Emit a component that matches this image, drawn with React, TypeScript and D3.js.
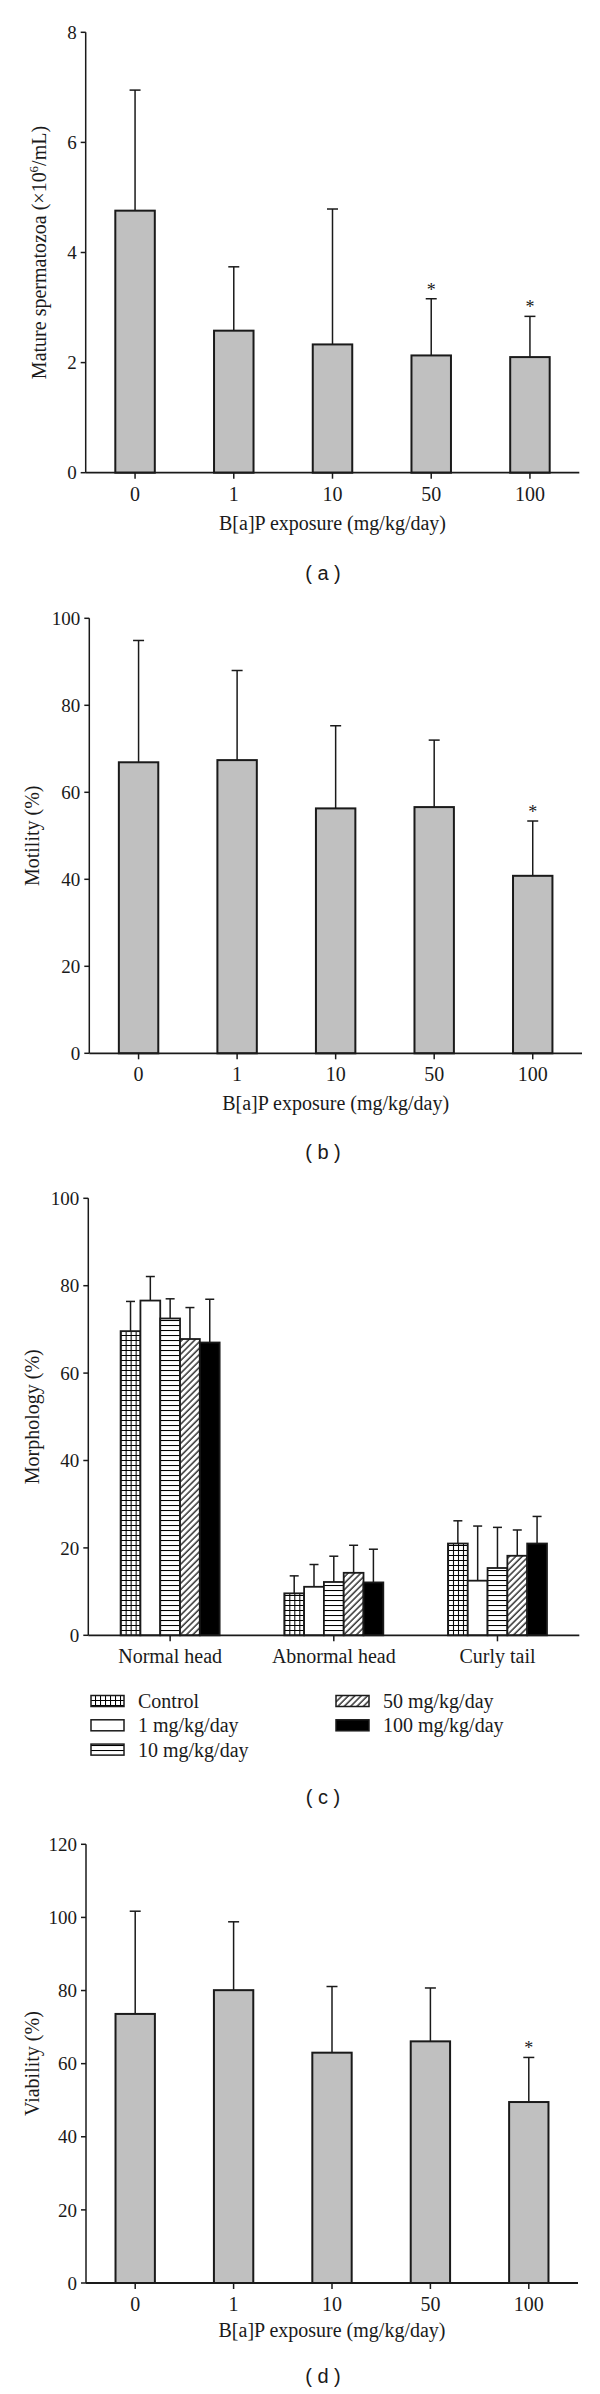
import * as d3 from 'd3';
import type { ReactNode } from 'react';

// ---- data ----
const DOSES = ['0', '1', '10', '50', '100'];

// (a) mature spermatozoa, x10^6/mL
const COUNT_MEAN = [4.76, 2.58, 2.33, 2.13, 2.1];
const COUNT_SD = [2.19, 1.16, 2.46, 1.03, 0.74];
const COUNT_SIG = [false, false, false, true, true];
const COUNT_TICKS = [0, 2, 4, 6, 8];

// (b) motility %
const MOTILITY_MEAN = [66.9, 67.4, 56.3, 56.6, 40.8];
const MOTILITY_SD = [28.0, 20.6, 19.0, 15.4, 12.6];
const MOTILITY_SIG = [false, false, false, false, true];
const PCT_TICKS = [0, 20, 40, 60, 80, 100];

// (c) morphology %
const MORPH_CATEGORIES = ['Normal head', 'Abnormal head', 'Curly tail'];
const MORPH_SERIES = ['Control', '1 mg/kg/day', '10 mg/kg/day', '50 mg/kg/day', '100 mg/kg/day'];
const MORPH_CONTROL = [69.6, 9.6, 21.0];
const MORPH_1 = [76.6, 11.1, 12.5];
const MORPH_10 = [72.5, 12.2, 15.4];
const MORPH_50 = [67.8, 14.3, 18.2];
const MORPH_100 = [67.0, 12.1, 21.0];
const MORPH_CONTROL_SD = [6.8, 4.0, 5.2];
const MORPH_1_SD = [5.5, 5.1, 12.5];
const MORPH_10_SD = [4.5, 5.9, 9.3];
const MORPH_50_SD = [7.2, 6.3, 5.9];
const MORPH_100_SD = [9.9, 7.6, 6.2];

// (d) viability %
const VIABILITY_MEAN = [73.6, 80.1, 63.0, 66.1, 49.5];
const VIABILITY_SD = [28.1, 18.7, 18.1, 14.6, 12.2];
const VIABILITY_SIG = [false, false, false, false, true];
const VIABILITY_TICKS = [0, 20, 40, 60, 80, 100, 120];

const X_TITLE = 'B[a]P exposure (mg/kg/day)';

const SERIF = '"Liberation Serif", "Times New Roman", serif';
const SANS = '"Liberation Sans", Arial, sans-serif';
const INK = '#1a1a1a';
const BAR_GREY = '#c0c0c0';
const SERIES_FILLS = ['url(#pGrid)', '#ffffff', 'url(#pHLines)', 'url(#pDiag)', '#000000'];

interface Frame {
  left: number;
  right: number;
  top: number;
  bottom: number;
}

function YAxis({ frame, y, ticks }: { frame: Frame; y: d3.ScaleLinear<number, number>; ticks: number[] }) {
  return (
    <g>
      <line x1={frame.left} x2={frame.left} y1={frame.top} y2={frame.bottom} stroke={INK} strokeWidth={1.5} />
      {ticks.map((t) => (
        <g key={t} transform={`translate(${frame.left},${y(t)})`}>
          <line x1={-5} x2={0} stroke={INK} strokeWidth={1.5} />
          <text x={-9} dy="0.35em" textAnchor="end" fontSize={19} fontFamily={SERIF} fill={INK}>
            {t}
          </text>
        </g>
      ))}
    </g>
  );
}

function YTitle({ x, frame, children }: { x: number; frame: Frame; children: ReactNode }) {
  const cy = (frame.top + frame.bottom) / 2;
  return (
    <text
      transform={`translate(${x},${cy}) rotate(-90)`}
      textAnchor="middle"
      fontSize={20}
      fontFamily={SERIF}
      fill={INK}
    >
      {children}
    </text>
  );
}

function PanelTag({ y, tag }: { y: number; tag: string }) {
  return (
    <text x={323} y={y} textAnchor="middle" fontSize={20} fontFamily={SANS} fill={INK} xmlSpace="preserve">
      {`( ${tag} )`}
    </text>
  );
}

interface DosePanelProps {
  frame: Frame;
  yMax: number;
  ticks: number[];
  means: number[];
  sds: number[];
  sig: boolean[];
  yTitle: ReactNode;
  yTitleX: number;
  tag: string;
  tagY: number;
  xTitleGap: number;
}

function DosePanel({ frame, yMax, ticks, means, sds, sig, yTitle, yTitleX, tag, tagY, xTitleGap }: DosePanelProps) {
  const x = d3.scaleBand<string>().domain(DOSES).range([frame.left, frame.right]).paddingInner(0.6).paddingOuter(0.3);
  const y = d3.scaleLinear().domain([0, yMax]).range([frame.bottom, frame.top]);
  const bw = x.bandwidth();

  return (
    <g>
      {DOSES.map((d, i) => {
        const x0 = x(d) ?? 0;
        const cx = x0 + bw / 2;
        const yTop = y(means[i]);
        const yErr = y(means[i] + sds[i]);
        return (
          <g key={d}>
            <line x1={cx} x2={cx} y1={yTop} y2={yErr} stroke={INK} strokeWidth={1.5} />
            <line x1={cx - 5.5} x2={cx + 5.5} y1={yErr} y2={yErr} stroke={INK} strokeWidth={1.5} />
            <rect x={x0} y={yTop} width={bw} height={frame.bottom - yTop} fill={BAR_GREY} stroke={INK} strokeWidth={2} />
            {sig[i] && (
              <text x={cx} y={yErr - 3} textAnchor="middle" fontSize={18} fontFamily={SERIF} fill={INK}>
                *
              </text>
            )}
          </g>
        );
      })}
      <YAxis frame={frame} y={y} ticks={ticks} />
      <line x1={frame.left} x2={frame.right} y1={frame.bottom} y2={frame.bottom} stroke={INK} strokeWidth={1.8} />
      {DOSES.map((d) => {
        const cx = (x(d) ?? 0) + bw / 2;
        return (
          <g key={d} transform={`translate(${cx},${frame.bottom})`}>
            <line y1={0} y2={6} stroke={INK} strokeWidth={1.5} />
            <text y={28} textAnchor="middle" fontSize={20} fontFamily={SERIF} fill={INK}>
              {d}
            </text>
          </g>
        );
      })}
      <text
        x={(frame.left + frame.right) / 2}
        y={frame.bottom + xTitleGap}
        textAnchor="middle"
        fontSize={20}
        fontFamily={SERIF}
        fill={INK}
      >
        {X_TITLE}
      </text>
      <YTitle x={yTitleX} frame={frame}>
        {yTitle}
      </YTitle>
      <PanelTag y={tagY} tag={tag} />
    </g>
  );
}

function MorphologyPanel() {
  const frame: Frame = { left: 88.3, right: 579.3, top: 1198.3, bottom: 1635.3 };
  const means = [MORPH_CONTROL, MORPH_1, MORPH_10, MORPH_50, MORPH_100];
  const sds = [MORPH_CONTROL_SD, MORPH_1_SD, MORPH_10_SD, MORPH_50_SD, MORPH_100_SD];
  const x0 = d3
    .scaleBand<string>()
    .domain(MORPH_CATEGORIES)
    .range([frame.left, frame.right])
    .paddingInner(0.395)
    .paddingOuter(0.1975);
  const x1 = d3.scaleBand<string>().domain(MORPH_SERIES).range([0, x0.bandwidth()]);
  const y = d3.scaleLinear().domain([0, 100]).range([frame.bottom, frame.top]);
  const bw = x1.bandwidth();

  return (
    <g>
      {MORPH_CATEGORIES.map((c, ci) => (
        <g key={c} transform={`translate(${x0(c) ?? 0},0)`}>
          {MORPH_SERIES.map((s, si) => {
            const bx = x1(s) ?? 0;
            const cx = bx + bw / 2;
            const m = means[si][ci];
            const yTop = y(m);
            const yErr = y(m + sds[si][ci]);
            return (
              <g key={s}>
                <line x1={cx} x2={cx} y1={yTop} y2={yErr} stroke={INK} strokeWidth={1.5} />
                <line x1={cx - 4.5} x2={cx + 4.5} y1={yErr} y2={yErr} stroke={INK} strokeWidth={1.5} />
                <rect
                  x={bx}
                  y={yTop}
                  width={bw}
                  height={frame.bottom - yTop}
                  fill={SERIES_FILLS[si]}
                  stroke={INK}
                  strokeWidth={1.8}
                />
              </g>
            );
          })}
        </g>
      ))}
      <YAxis frame={frame} y={y} ticks={PCT_TICKS} />
      <line x1={frame.left} x2={frame.right} y1={frame.bottom} y2={frame.bottom} stroke={INK} strokeWidth={1.8} />
      {MORPH_CATEGORIES.map((c) => {
        const cx = (x0(c) ?? 0) + x0.bandwidth() / 2;
        return (
          <g key={c} transform={`translate(${cx},${frame.bottom})`}>
            <line y1={0} y2={6} stroke={INK} strokeWidth={1.5} />
            <text y={28} textAnchor="middle" fontSize={20} fontFamily={SERIF} fill={INK}>
              {c}
            </text>
          </g>
        );
      })}
      <YTitle x={39} frame={frame}>
        Morphology (%)
      </YTitle>
      {/* legend: three rows on the left, two on the right */}
      {MORPH_SERIES.map((s, i) => {
        const col = i < 3 ? 0 : 1;
        const row = i < 3 ? i : i - 3;
        const sx = col === 0 ? 91 : 336;
        const cy = 1701 + row * 24.3;
        return (
          <g key={s}>
            <rect x={sx} y={cy - 5.5} width={33} height={11} fill={SERIES_FILLS[i]} stroke={INK} strokeWidth={1.5} />
            <text x={sx + 47} y={cy} dy="0.35em" fontSize={20} fontFamily={SERIF} fill={INK}>
              {s}
            </text>
          </g>
        );
      })}
      <PanelTag y={1804} tag="c" />
    </g>
  );
}

export default function App() {
  return (
    <div style={{ position: 'absolute', left: 0, top: 0, background: '#fff' }}>
      <svg width={600} height={2394} viewBox="0 0 600 2394" style={{ display: 'block' }}>
        <defs>
          <pattern id="pGrid" width={5} height={5} patternUnits="userSpaceOnUse">
            <rect width={5} height={5} fill="#fff" />
            <path d="M0,0.5H5M0.5,0V5" stroke="#000" strokeWidth={1.1} />
          </pattern>
          <pattern id="pHLines" width={5} height={5} patternUnits="userSpaceOnUse">
            <rect width={5} height={5} fill="#fff" />
            <path d="M0,0.5H5" stroke="#000" strokeWidth={1.1} />
          </pattern>
          <pattern id="pDiag" width={4.5} height={4.5} patternUnits="userSpaceOnUse" patternTransform="rotate(45)">
            <rect width={4.5} height={4.5} fill="#fff" />
            <path d="M1,0V4.5" stroke="#000" strokeWidth={1.2} />
          </pattern>
        </defs>
        <rect width={600} height={2394} fill="#fff" />

        <DosePanel
          frame={{ left: 85.7, right: 579.3, top: 32.3, bottom: 472.7 }}
          yMax={8}
          ticks={COUNT_TICKS}
          means={COUNT_MEAN}
          sds={COUNT_SD}
          sig={COUNT_SIG}
          yTitle={
            <>
              Mature spermatozoa (×10
              <tspan fontSize={13} dy={-8}>
                6
              </tspan>
              <tspan dy={8}>/mL)</tspan>
            </>
          }
          yTitleX={46}
          tag="a"
          tagY={580}
          xTitleGap={57}
        />

        <DosePanel
          frame={{ left: 89.3, right: 582, top: 618.3, bottom: 1053.3 }}
          yMax={100}
          ticks={PCT_TICKS}
          means={MOTILITY_MEAN}
          sds={MOTILITY_SD}
          sig={MOTILITY_SIG}
          yTitle="Motility (%)"
          yTitleX={39}
          tag="b"
          tagY={1159}
          xTitleGap={57}
        />

        <MorphologyPanel />

        <DosePanel
          frame={{ left: 86, right: 578, top: 1844.3, bottom: 2283 }}
          yMax={120}
          ticks={VIABILITY_TICKS}
          means={VIABILITY_MEAN}
          sds={VIABILITY_SD}
          sig={VIABILITY_SIG}
          yTitle="Viability (%)"
          yTitleX={39}
          tag="d"
          tagY={2383}
          xTitleGap={54}
        />
      </svg>
    </div>
  );
}
